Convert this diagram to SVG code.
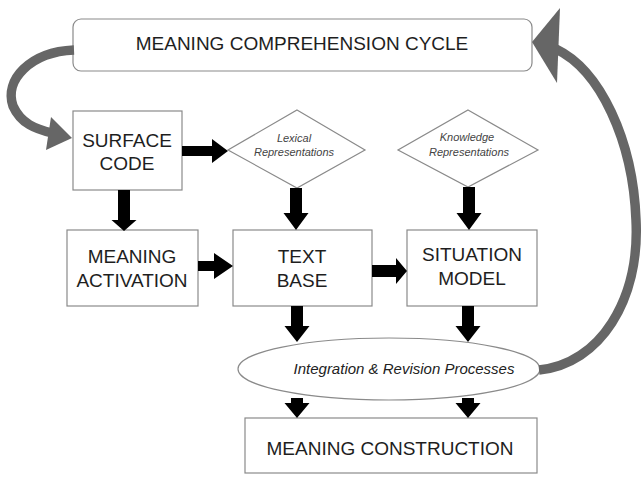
<svg xmlns="http://www.w3.org/2000/svg" width="642" height="483" viewBox="0 0 642 483">
<style>
.box{fill:#fff;stroke:#8a8a8a;stroke-width:1.2}
.t{font-family:"Liberation Sans",Arial,sans-serif;font-size:19px;fill:#1e1e1e;text-anchor:middle}
.s{font-family:"Liberation Sans",Arial,sans-serif;font-size:11px;font-style:italic;fill:#444;text-anchor:middle}
.e{font-family:"Liberation Sans",Arial,sans-serif;font-size:15px;font-style:italic;fill:#222;text-anchor:middle}
.blk{fill:#000}
.gband{fill:none;stroke:#666;stroke-width:9.5}
.ghead{fill:#666}
</style>
<rect width="642" height="483" fill="#fff"/>
<g id="cycle"><rect class="box" x="73" y="19" width="459" height="52" rx="8"/><text class="t" x="302" y="50">MEANING COMPREHENSION CYCLE</text></g>
<g id="surface"><rect class="box" x="73" y="111" width="109" height="79"/><text class="t" x="127" y="147">SURFACE</text><text class="t" x="127" y="170">CODE</text></g>
<g id="lexical"><polygon class="box" points="297,110 365,150 297,188 228,150"/><text class="s" x="294" y="142">Lexical</text><text class="s" x="294" y="156">Representations</text></g>
<g id="knowledge"><polygon class="box" points="468,110 538,150 468,187 398,150"/><text class="s" x="467" y="141">Knowledge</text><text class="s" x="469" y="156">Representations</text></g>
<g id="activation"><rect class="box" x="67" y="230" width="131" height="76"/><text class="t" x="132" y="263">MEANING</text><text class="t" x="132" y="287">ACTIVATION</text></g>
<g id="textbase"><rect class="box" x="233" y="230" width="139" height="76"/><text class="t" x="302" y="263">TEXT</text><text class="t" x="302" y="287">BASE</text></g>
<g id="situation"><rect class="box" x="407" y="230" width="130" height="76"/><text class="t" x="472" y="261">SITUATION</text><text class="t" x="472" y="285">MODEL</text></g>
<g id="integration"><ellipse class="box" cx="389" cy="369" rx="151" ry="31"/><text class="e" x="404" y="374">Integration &amp; Revision Processes</text></g>
<g id="construction"><rect class="box" x="245" y="418" width="292" height="55"/><text class="t" x="390" y="455">MEANING CONSTRUCTION</text></g>
<g id="connectors">
<path class="blk" d="M118,190H130V220H136.5L124,231L111.5,220H118Z"/>
<path class="blk" d="M290,188H302V213H308.5L296,230L283.5,213H290Z"/>
<path class="blk" d="M463,187H475V213H481.5L469,230L456.5,213H463Z"/>
<path class="blk" d="M291,306H303V326H309.5L297,342L284.5,326H291Z"/>
<path class="blk" d="M462,306H474V326H480.5L468,342L455.5,326H462Z"/>
<path class="blk" d="M291,398H303V403H309.5L297,418L284.5,403H291Z"/>
<path class="blk" d="M462,398H474V403H480.5L468,418L455.5,403H462Z"/>
<path class="blk" d="M182,146H212V139L228,151L212,163V156H182Z"/>
<path class="blk" d="M198,261H214V253L233,266L214,279V271H198Z"/>
<path class="blk" d="M372,265H396V258L407,271L396,284V277H372Z"/>
<path class="gband" d="M74,50C30,52 4,80 13,106C21,124 36,129 52,133"/>
<polygon class="ghead" points="72,138 51,117 46,150"/>
<path class="gband" d="M539,370C600,364 640,300 636,220C633,140 600,70 556,49"/>
<polygon class="ghead" points="532,42 560,8 557,83"/>
</g>
</svg>
